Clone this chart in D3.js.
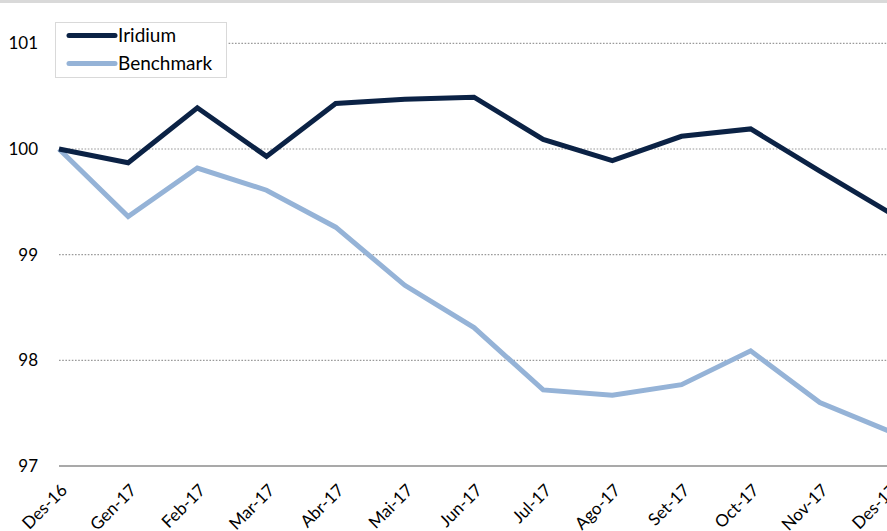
<!DOCTYPE html>
<html><head><meta charset="utf-8">
<script src="https://cdn.jsdelivr.net/npm/d3@7/dist/d3.min.js"></script>
<style>
html,body{margin:0;padding:0;background:#fff;overflow:hidden;}
svg{display:block;}
text{font-family:Lato, "Liberation Sans", sans-serif;fill:#000;}
</style></head>
<body>
<script>
const months = ["Des-16","Gen-17","Feb-17","Mar-17","Abr-17","Mai-17","Jun-17","Jul-17","Ago-17","Set-17","Oct-17","Nov-17","Des-17"];
const iridium = [100, 99.87, 100.39, 99.93, 100.43, 100.47, 100.49, 100.09, 99.89, 100.12, 100.19, 99.79, 99.40];
const benchmark = [100, 99.36, 99.82, 99.61, 99.26, 98.71, 98.31, 97.72, 97.67, 97.77, 98.09, 97.60, 97.33];
const yTicks = [97, 98, 99, 100, 101];
const seriesNames = ["Iridium", "Benchmark"];

const W = 887, H = 531;
const svg = d3.select("body").append("svg").attr("width", W).attr("height", H);

svg.append("rect").attr("x",0).attr("y",0).attr("width",W).attr("height",3).attr("fill","#d9d9d9");

const x = d3.scalePoint().domain(months).range([59, 889]);
const y = d3.scaleLinear().domain([97, 101]).range([466, 43.3]);

// gridlines
svg.append("g").selectAll("line").data(yTicks.filter(t => t !== 97)).join("line")
  .attr("x1", 59).attr("x2", W).attr("y1", d => y(d)).attr("y2", d => y(d))
  .attr("stroke", "#9a9a9a").attr("stroke-width", 1.2).attr("stroke-dasharray", "1.6,1.6");

// x axis baseline
svg.append("line").attr("x1", 59).attr("x2", W).attr("y1", y(97)).attr("y2", y(97))
  .attr("stroke", "#8c8c8c").attr("stroke-width", 1.6);

// y labels
svg.append("g").selectAll("text").data(yTicks).join("text")
  .attr("x", 38).attr("y", d => y(d)).attr("dy", "0.35em")
  .attr("text-anchor", "end").attr("font-size", 17).text(d => d);

// x labels
svg.append("g").selectAll("text").data(months).join("text")
  .attr("transform", d => `translate(${x(d)+5},${487}) rotate(-45)`)
  .attr("text-anchor", "end").attr("dy", "0.35em").attr("font-size", 17).text(d => d);

const line = d3.line().x((d, i) => x(months[i])).y(d => y(d)).curve(d3.curveLinear);

svg.append("path").datum(benchmark).attr("d", line).attr("fill", "none")
  .attr("stroke", "#95b3d7").attr("stroke-width", 5).attr("stroke-linejoin", "miter");
svg.append("path").datum(iridium).attr("d", line).attr("fill", "none")
  .attr("stroke", "#0b2245").attr("stroke-width", 5).attr("stroke-linejoin", "miter");

// legend
const lg = svg.append("g");
lg.append("rect").attr("x", 55.5).attr("y", 22.5).attr("width", 171).attr("height", 55)
  .attr("fill", "#fff").attr("stroke", "#d9d9d9").attr("stroke-width", 1);
const colors = ["#0b2245", "#95b3d7"];
seriesNames.forEach((n, i) => {
  const yy = 35.5 + i * 28;
  lg.append("line").attr("x1", 69).attr("x2", 115).attr("y1", yy).attr("y2", yy)
    .attr("stroke", colors[i]).attr("stroke-width", 5).attr("stroke-linecap", "round");
  lg.append("text").attr("x", 118).attr("y", yy).attr("dy", "0.35em").attr("font-size", 19).text(n);
});
</script>
</body></html>
